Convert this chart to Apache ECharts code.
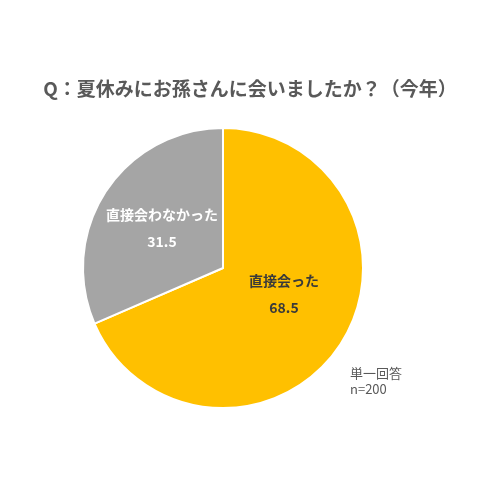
<!DOCTYPE html>
<html><head><meta charset="utf-8">
<script src="https://cdn.jsdelivr.net/npm/echarts@6/dist/echarts.min.js"></script>
<style>html,body{margin:0;padding:0;background:#fff}#c{width:500px;height:500px}</style>
</head><body><div id="c"></div>
<script>
const titleText = 'Q：夏休みにお孫さんに会いましたか？（今年）';
const categories = ['直接会った', '直接会わなかった'];
const values = [68.5, 31.5];
const colors = ['#FFC000', '#A5A5A5'];
const noteLines = ['単一回答', 'n=200'];

const font = '"Noto Sans CJK JP", "Noto Sans", sans-serif';
const chart = echarts.init(document.getElementById('c'), null, {renderer: 'canvas'});
const labelStyles = [
  {color: '#3a3a3a', formatter: '{b}\n{c}\n'},
  {color: '#ffffff', formatter: '{b}\n{c}'}
];
chart.setOption({
  backgroundColor: '#ffffff',
  animation: false,
  title: {
    text: titleText,
    left: 'center',
    top: 74,
    textStyle: {fontFamily: font, fontSize: 19, fontWeight: 'bold', color: '#595959'}
  },
  graphic: [{
    type: 'text',
    left: 350,
    top: 365,
    style: {text: noteLines.join('\n'), fontFamily: font, fontSize: 13, lineHeight: 16, fill: '#595959'}
  }],
  series: [{
    type: 'pie',
    center: [223, 268],
    radius: [0, 140],
    startAngle: 90,
    clockwise: true,
    silent: true,
    itemStyle: {borderColor: '#ffffff', borderWidth: 2},
    label: {
      position: 'inside',
      formatter: '{b}\n{c}',
      fontFamily: font,
      fontSize: 14,
      fontWeight: 'bold',
      lineHeight: 27
    },
    labelLine: {show: false},
    data: categories.map((n, i) => ({
      name: n, value: values[i],
      itemStyle: {color: colors[i]},
      label: labelStyles[i]
    }))
  }]
});
</script></body></html>
